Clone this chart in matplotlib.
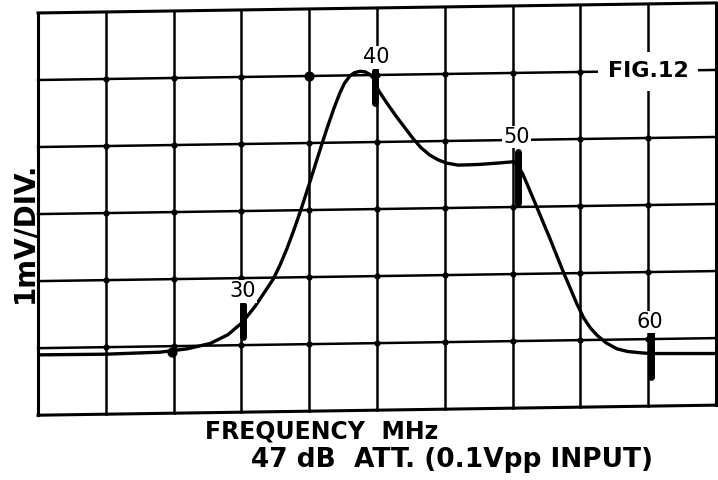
import matplotlib.pyplot as plt

# trace, in grid divisions (x: 0-10, y: 0-6)
trace_x = [0.0, 1.0, 1.80, 2.2, 2.54, 2.8, 3.01, 3.2, 3.47, 3.57, 3.67, 3.77,
           3.87, 3.97, 4.07, 4.17, 4.27, 4.37, 4.45, 4.52, 4.60, 4.67, 4.75,
           4.83, 4.90, 4.97, 5.02, 5.15, 5.29, 5.41, 5.53, 5.65, 5.78, 5.9,
           6.03, 6.2, 6.5, 6.77, 7.01, 7.08, 7.15, 7.21, 7.36, 7.55, 7.74,
           7.95, 8.05, 8.15, 8.25, 8.38, 8.54, 8.7, 8.9, 9.03, 10.0]
trace_y = [0.90, 0.91, 0.94, 0.99, 1.07, 1.20, 1.38, 1.62, 2.03, 2.24, 2.48, 2.75,
           3.04, 3.35, 3.67, 3.99, 4.30, 4.59, 4.80, 4.95, 5.06, 5.11, 5.13,
           5.12, 5.08, 5.00, 4.85, 4.65, 4.45, 4.29, 4.13, 3.99, 3.88, 3.81,
           3.76, 3.73, 3.74, 3.76, 3.78, 3.72, 3.6, 3.46, 3.10, 2.64, 2.16,
           1.66, 1.45, 1.30, 1.19, 1.08, 0.99, 0.95, 0.93, 0.92, 0.92]

# frequency markers on the trace (MHz)
freq_labels = ['30', '40', '50', '60']
marker_x = [3.03, 4.97, 7.08, 9.05]
marker_y0 = [1.16, 4.66, 3.16, 0.57]
marker_y1 = [1.64, 5.13, 3.93, 1.27]
label_x = [3.02, 4.99, 7.06, 9.03]
label_y = [1.85, 5.34, 4.15, 1.39]

tilt = 0.15  # the photographed screen is slightly rotated

fig = plt.figure(figsize=(7.18, 4.8), dpi=100)
ax = fig.add_axes([0.053, 0.135, 0.944, 0.838])
ax.set_xlim(0, 10)
ax.set_ylim(0, 6)
ax.set_xticks([])
ax.set_yticks([])
for s in ax.spines.values():
    s.set_visible(False)

# graticule (horizontal lines rise slightly to the right)
for gy in range(0, 7):
    lw = 2.2 if gy in (0, 6) else 1.8
    ax.plot([0, 10], [gy, gy + tilt], color='black', lw=lw, zorder=1,
            clip_on=False, solid_capstyle='projecting')
for gx in range(0, 11):
    lw = 2.2 if gx in (0, 10) else 1.8
    ax.plot([gx, gx], [tilt * gx / 10, 6 + tilt * gx / 10], color='black',
            lw=lw, zorder=1, clip_on=False)
dots_x = [gx for gx in range(1, 10) for gy in range(1, 6)]
dots_y = [gy + tilt * gx / 10 for gx in range(1, 10) for gy in range(1, 6)]
ax.scatter(dots_x, dots_y, s=12, color='black', zorder=2)
ax.scatter([1.98, 4.0], [0.94, 5.06], s=40, color='black', zorder=2)

ax.plot(trace_x, trace_y, color='black', lw=2.4, zorder=3,
        solid_joinstyle='round', solid_capstyle='round')

for x, y0, y1, lab, lx, ly in zip(marker_x, marker_y0, marker_y1, freq_labels,
                                  label_x, label_y):
    ax.plot([x, x], [y0, y1], color='black', lw=5, solid_capstyle='round', zorder=4)
    ax.text(lx, ly, lab, ha='center', va='center', fontsize=15,
            fontfamily='DejaVu Sans', zorder=5,
            bbox=dict(facecolor='white', edgecolor='none', pad=1))

ax.text(9.0, 5.13, 'FIG.12', ha='center', va='center', fontsize=16,
        fontweight='bold', zorder=5,
        bbox=dict(facecolor='white', edgecolor='none', pad=7))

fig.text(0.034, 0.517, '1mV/DIV.', rotation=90, ha='center', va='center',
         fontsize=20, fontweight='bold')
fig.text(0.448, 0.1, 'FREQUENCY  MHz', ha='center', va='center',
         fontsize=17, fontweight='bold')
fig.text(0.63, 0.042, '47 dB  ATT. (0.1Vpp INPUT)', ha='center', va='center',
         fontsize=19, fontweight='bold')

fig.savefig('out.png', dpi=100)
